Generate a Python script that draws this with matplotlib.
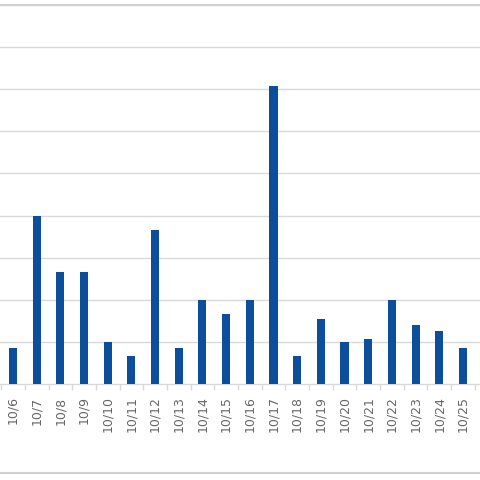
import matplotlib
matplotlib.use("Agg")
import matplotlib.pyplot as plt
from matplotlib.lines import Line2D

categories = ["10/6", "10/7", "10/8", "10/9", "10/10", "10/11", "10/12", "10/13",
              "10/14", "10/15", "10/16", "10/17", "10/18", "10/19", "10/20",
              "10/21", "10/22", "10/23", "10/24", "10/25"]
values = [13, 60, 40, 40, 15, 10, 55, 13, 30, 25, 30, 106, 10, 23, 15, 16, 30, 21, 19, 13]
grid_step = 15

W = H = 480
fig = plt.figure(figsize=(4.8, 4.8), dpi=100)
ax = fig.add_axes([0, (H - 384) / H, 1, (384 - 5) / H])

x = list(range(len(categories)))
ax.bar(x, values, width=0.34, color="#0b4f9c", zorder=3)

px_per_cat = 23.68
x0 = -13 / px_per_cat
x1 = (W - 13) / px_per_cat
ax.set_xlim(x0, x1)
ymax = (384 - 5) / 42.2 * grid_step
ax.set_ylim(0, ymax)

ax.set_yticks([grid_step * k for k in range(1, 10)])
ax.yaxis.grid(True, color="#d9d9d9", linewidth=1.0, zorder=0)
ax.tick_params(axis="y", left=False, labelleft=False)

ax.set_xticks(x)
ax.set_xticklabels(categories, rotation=90, fontsize=9, color="#666666")
ax.set_xticks([i - 0.5 for i in range(len(categories) + 1)], minor=True)
ax.tick_params(axis="x", which="major", length=0, pad=9)
ax.tick_params(axis="x", which="minor", length=4, color="#d9d9d9", width=1)

for s in ["top", "left", "right"]:
    ax.spines[s].set_visible(False)
ax.spines["bottom"].set_color("#d9d9d9")
ax.spines["bottom"].set_linewidth(1.0)

for ypx in (5, 473):
    yf = (H - ypx) / H
    fig.add_artist(Line2D([0, 1], [yf, yf], transform=fig.transFigure,
                          color="#d0d0d0", linewidth=1.5))

fig.savefig("out.png", dpi=100)
